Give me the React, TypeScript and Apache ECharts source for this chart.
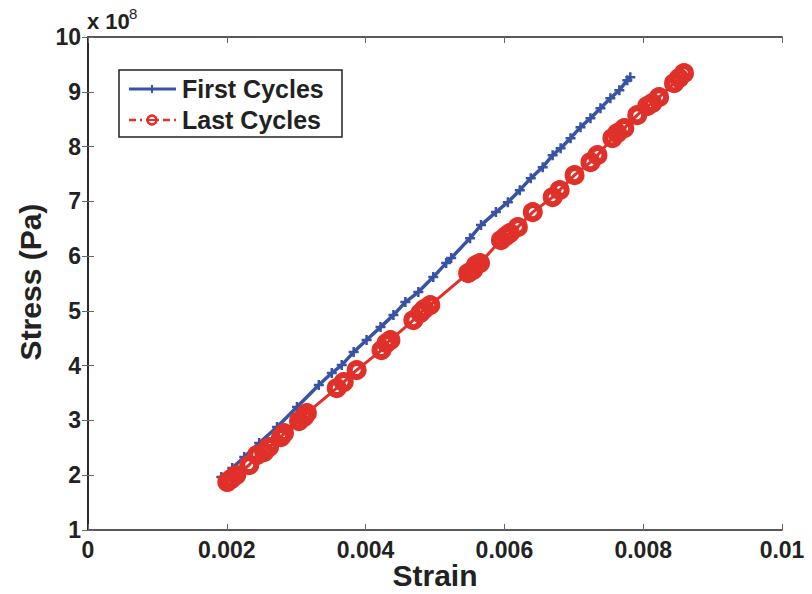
import React, { useEffect, useRef } from "react";
import * as echarts from "echarts";

// Strain (dimensionless) and stress (in units of 1e8 Pa)
const firstStrain = [
  0.001921, 0.002079, 0.002251, 0.002466, 0.002724, 0.003011, 0.003326, 0.003513,
  0.003656, 0.003828, 0.004014, 0.004215, 0.004401, 0.004573, 0.00476, 0.004975,
  0.005161, 0.005233, 0.005505, 0.005663, 0.005878, 0.00605, 0.006222, 0.00638,
  0.006552, 0.006695, 0.00681, 0.006953, 0.007097, 0.00724, 0.007384, 0.007527,
  0.007656, 0.007771, 0.007814,
];
const firstStress = [
  1.967, 2.131, 2.332, 2.588, 2.88, 3.245, 3.646, 3.865,
  4.011, 4.248, 4.467, 4.704, 4.923, 5.161, 5.343, 5.617,
  5.872, 5.964, 6.328, 6.566, 6.803, 6.985, 7.204, 7.423,
  7.624, 7.843, 7.971, 8.153, 8.354, 8.518, 8.701, 8.883,
  9.029, 9.212, 9.266,
];
const lastStrain = [
  0.002007, 0.002065, 0.002136, 0.002323, 0.002437, 0.002538, 0.002609, 0.002781,
  0.002824, 0.00304, 0.003111, 0.003154, 0.003584, 0.003685, 0.003871, 0.004229,
  0.004301, 0.004358, 0.004688, 0.004789, 0.004846, 0.004932, 0.005477, 0.005548,
  0.005591, 0.005649, 0.00595, 0.006022, 0.006079, 0.006194, 0.006409, 0.006695,
  0.006796, 0.007011, 0.00724, 0.007341, 0.007556, 0.007627, 0.007728, 0.007914,
  0.008057, 0.008129, 0.008229, 0.008444, 0.008516, 0.008588,
];
const lastStress = [
  1.876, 1.931, 2.004, 2.186, 2.369, 2.423, 2.515, 2.697,
  2.77, 2.989, 3.062, 3.135, 3.591, 3.701, 3.92, 4.285,
  4.412, 4.467, 4.832, 4.96, 5.033, 5.106, 5.69, 5.745,
  5.836, 5.872, 6.292, 6.365, 6.42, 6.529, 6.803, 7.077,
  7.204, 7.478, 7.715, 7.843, 8.153, 8.245, 8.336, 8.573,
  8.737, 8.792, 8.901, 9.157, 9.248, 9.339,
];

const seriesNames = ["First Cycles", "Last Cycles"];
const xTitle = "Strain";
const yTitle = "Stress (Pa)";

const BLUE = "#3853A5";
const RED = "#E0302A";
const FONT = "Liberation Sans";
const PLUS =
  "path://M3,0 L5,0 L5,3 L8,3 L8,5 L5,5 L5,8 L3,8 L3,5 L0,5 L0,3 L3,3 Z";

const txt = (size: number, extra: Record<string, unknown> = {}) => ({
  fontFamily: FONT,
  fontWeight: "bold",
  fontSize: size,
  fill: "#222",
  ...extra,
});

export default function App() {
  const ref = useRef<HTMLDivElement>(null);
  useEffect(() => {
    if (!ref.current) return;
    const chart = echarts.init(ref.current, undefined, { renderer: "svg" });
    const fmtX = (v: number) => String(parseFloat(v.toFixed(4)));
    const axisLine = { show: true, lineStyle: { color: "#222", width: 1.6 } };
    const tick = { show: true, inside: true, length: 6, lineStyle: { color: "#666", width: 1 } };
    const legendBox = { x: 119, y: 70, w: 223, h: 67 };
    chart.setOption({
      animation: false,
      backgroundColor: "#fff",
      grid: { left: 88, right: 30, top: 37, bottom: 64 },
      xAxis: [
        {
          type: "value",
          min: 0,
          max: 0.01,
          interval: 0.002,
          position: "bottom",
          axisLine,
          axisTick: tick,
          splitLine: { show: false },
          axisLabel: {
            formatter: fmtX,
            color: "#222",
            fontFamily: FONT,
            fontWeight: "bold",
            fontSize: 23,
            margin: 8,
          },
        },
        {
          type: "value",
          min: 0,
          max: 0.01,
          interval: 0.002,
          position: "top",
          axisLine,
          axisTick: tick,
          splitLine: { show: false },
          axisLabel: { show: false },
        },
      ],
      yAxis: [
        {
          type: "value",
          min: 1,
          max: 10,
          interval: 1,
          position: "left",
          axisLine,
          axisTick: tick,
          splitLine: { show: false },
          axisLabel: {
            color: "#222",
            fontFamily: FONT,
            fontWeight: "bold",
            fontSize: 23,
            margin: 7,
          },
        },
        {
          type: "value",
          min: 1,
          max: 10,
          interval: 1,
          position: "right",
          axisLine,
          axisTick: tick,
          splitLine: { show: false },
          axisLabel: { show: false },
        },
      ],
      series: [
        {
          name: seriesNames[0],
          type: "line",
          data: firstStrain.map((x, i) => [x, firstStress[i]]),
          lineStyle: { color: BLUE, width: 3.5 },
          itemStyle: { color: BLUE },
          symbol: PLUS,
          symbolSize: 10,
          showSymbol: true,
          z: 2,
        },
        {
          name: seriesNames[1],
          type: "line",
          data: lastStrain.map((x, i) => [x, lastStress[i]]),
          lineStyle: { color: RED, width: 3 },
          itemStyle: { color: "rgba(255,255,255,0)", borderColor: RED, borderWidth: 6 },
          symbol: "circle",
          symbolSize: 14,
          showSymbol: true,
          z: 3,
        },
      ],
      graphic: [
        {
          type: "text",
          x: 87,
          y: 32,
          style: txt(22, { text: "x 10", verticalAlign: "bottom" }),
        },
        {
          type: "text",
          x: 129,
          y: 21,
          style: txt(15, { text: "8", verticalAlign: "bottom", fontWeight: "normal" }),
        },
        {
          type: "text",
          x: 435,
          y: 575,
          style: txt(30, { text: xTitle, align: "center", verticalAlign: "middle" }),
        },
        {
          type: "text",
          x: 30,
          y: 282,
          rotation: Math.PI / 2,
          style: txt(30, { text: yTitle, align: "center", verticalAlign: "middle" }),
        },
        {
          type: "rect",
          shape: { x: legendBox.x, y: legendBox.y, width: legendBox.w, height: legendBox.h },
          style: { fill: "#fff", stroke: "#222", lineWidth: 1.5 },
          z: 10,
        },
        {
          type: "line",
          shape: { x1: 129, y1: 89, x2: 176, y2: 89 },
          style: { stroke: BLUE, lineWidth: 3 },
          z: 11,
        },
        {
          type: "rect",
          shape: { x: 151, y: 85, width: 2, height: 8 },
          style: { fill: BLUE },
          z: 11,
        },
        {
          type: "text",
          x: 182,
          y: 89,
          style: txt(25, { text: seriesNames[0], verticalAlign: "middle" }),
          z: 11,
        },
        {
          type: "line",
          shape: { x1: 129, y1: 120, x2: 176, y2: 120 },
          style: { stroke: RED, lineWidth: 2.5, lineDash: [7, 4, 2, 4] },
          z: 11,
        },
        {
          type: "circle",
          shape: { cx: 152, cy: 120, r: 4.5 },
          style: { fill: "#fff", stroke: RED, lineWidth: 2.5 },
          z: 11,
        },
        {
          type: "line",
          shape: { x1: 147, y1: 120, x2: 157, y2: 120 },
          style: { stroke: RED, lineWidth: 2 },
          z: 12,
        },
        {
          type: "text",
          x: 182,
          y: 120,
          style: txt(25, { text: seriesNames[1], verticalAlign: "middle" }),
          z: 11,
        },
      ],
    });
    return () => chart.dispose();
  }, []);
  return (
    <div
      ref={ref}
      style={{ position: "fixed", left: 0, top: 0, width: 812, height: 594, background: "#fff" }}
    />
  );
}
